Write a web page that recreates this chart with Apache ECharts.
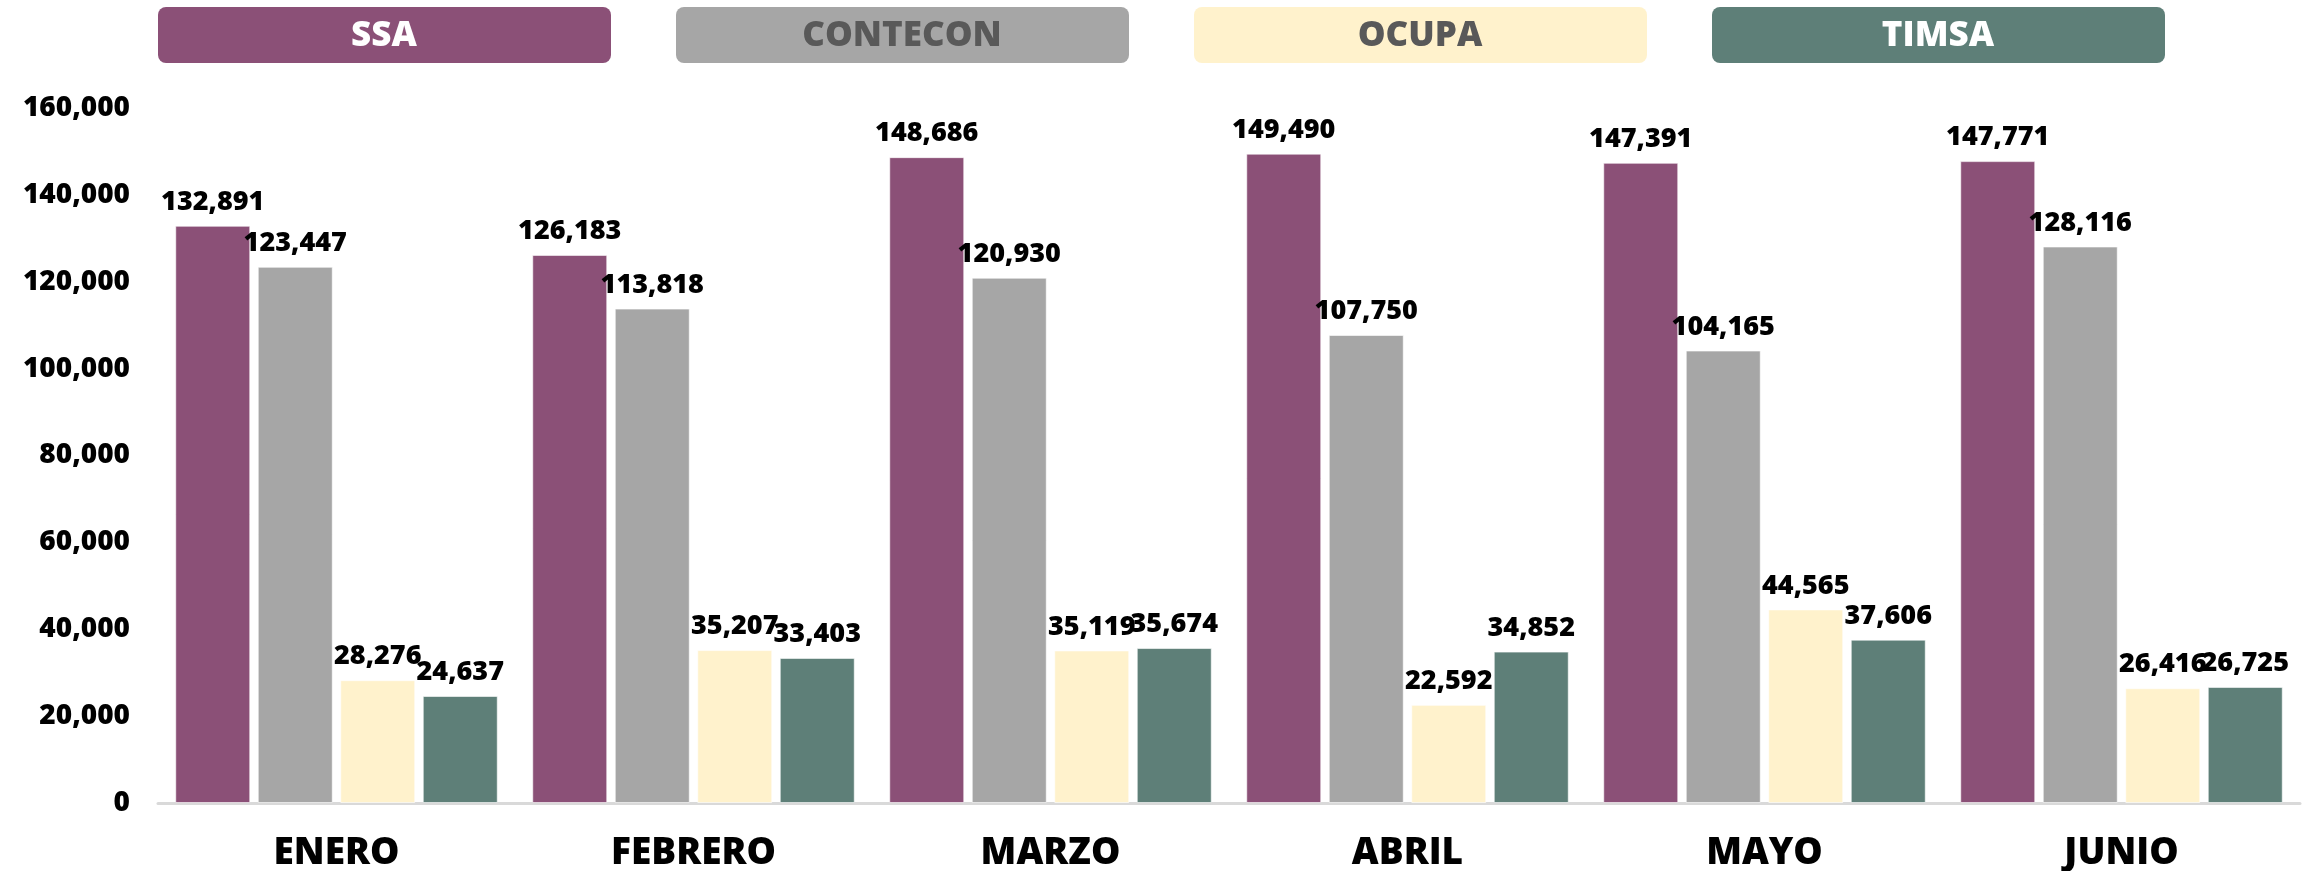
<!DOCTYPE html>
<html>
<head>
<meta charset="utf-8">
<script src="https://cdn.jsdelivr.net/npm/echarts@6/dist/echarts.min.js"></script>
<style>
  html, body { margin: 0; padding: 0; background: #ffffff; }
  #chart { width: 2315px; height: 871px; }
</style>
</head>
<body>
<div id="chart"></div>
<script>
var meses = ['ENERO', 'FEBRERO', 'MARZO', 'ABRIL', 'MAYO', 'JUNIO'];
var ssa = [132891, 126183, 148686, 149490, 147391, 147771];
var contecon = [123447, 113818, 120930, 107750, 104165, 128116];
var ocupa = [28276, 35207, 35119, 22592, 44565, 26416];
var timsa = [24637, 33403, 35674, 34852, 37606, 26725];

var nombres = ['SSA', 'CONTECON', 'OCUPA', 'TIMSA'];
var colores = ['#8B5077', '#A6A6A6', '#FFF2CC', '#5E7F78'];
var coloresTexto = ['#ffffff', '#595959', '#595959', '#ffffff'];
var valores = [ssa, contecon, ocupa, timsa];

var fuente = '"Open Sans", "DejaVu Sans", sans-serif';

var chartElem = document.getElementById('chart');
var chart = echarts.init(chartElem);

// cajas de leyenda arriba
var leyenda = nombres.map(function (n, i) {
  return {
    type: 'group',
    left: 158 + i * 518,
    top: 7,
    children: [{
      type: 'rect',
      shape: { x: 0, y: 0, width: 453, height: 56, r: 8 },
      style: { fill: colores[i] }
    }, {
      type: 'text',
      x: 226,
      y: 29,
      style: {
        text: n,
        fill: coloresTexto[i],
        font: '800 35px ' + fuente,
        align: 'center',
        verticalAlign: 'middle'
      }
    }]
  };
});

var series = nombres.map(function (n, i) {
  return {
    name: n,
    type: 'bar',
    data: valores[i],
    barWidth: 75,
    barGap: '10%',
    itemStyle: {
      color: colores[i],
      borderColor: 'rgba(255,255,255,0.6)',
      borderWidth: 1
    },
    label: {
      show: true,
      position: 'top',
      distance: 10,
      color: '#000000',
      fontFamily: fuente,
      fontWeight: 800,
      fontSize: 27,
      formatter: function (p) { return p.value.toLocaleString('en-US'); }
    }
  };
});

chart.setOption({
  backgroundColor: '#ffffff',
  animation: false,
  graphic: leyenda,
  grid: {
    left: 158,
    right: 15,
    top: 108,
    bottom: 68,
    outerBoundsMode: 'none'
  },
  xAxis: {
    type: 'category',
    data: meses,
    axisTick: { show: false },
    axisLine: { lineStyle: { color: '#D9D9D9', width: 3 } },
    axisLabel: {
      color: '#000000',
      fontFamily: fuente,
      fontWeight: 800,
      fontSize: 37,
      margin: 32
    }
  },
  yAxis: {
    type: 'value',
    min: 0,
    max: 160000,
    interval: 20000,
    splitLine: { show: false },
    axisLine: { show: false },
    axisTick: { show: false },
    axisLabel: {
      color: '#000000',
      fontFamily: fuente,
      fontWeight: 800,
      fontSize: 28,
      margin: 28,
      formatter: function (v) { return v.toLocaleString('en-US'); }
    }
  },
  series: series
});
</script>
</body>
</html>
